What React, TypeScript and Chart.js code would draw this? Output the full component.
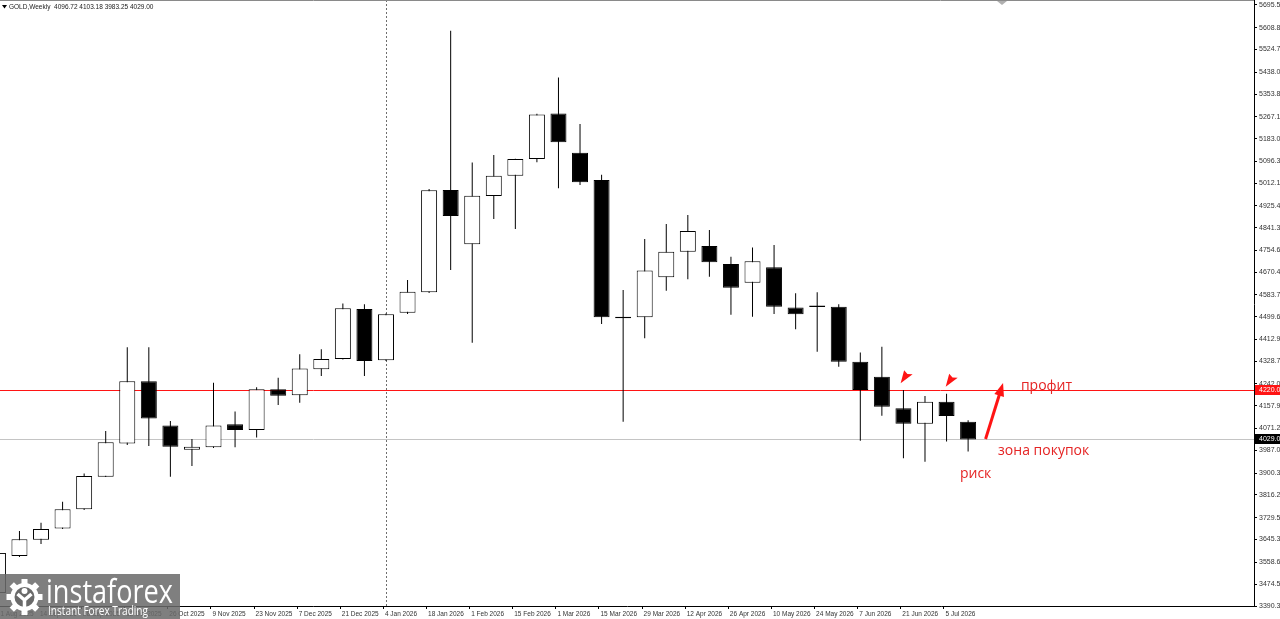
import React, { useEffect, useRef } from "react";
import { Chart, registerables } from "chart.js";

Chart.register(...registerables);

// ---------- data ----------
const symbolName = "GOLD,Weekly";

const tickDates = [
  "31 Aug 2025", "14 Sep 2025", "28 Sep 2025", "12 Oct 2025", "26 Oct 2025",
  "9 Nov 2025", "23 Nov 2025", "7 Dec 2025", "21 Dec 2025", "4 Jan 2026",
  "18 Jan 2026", "1 Feb 2026", "15 Feb 2026", "1 Mar 2026", "15 Mar 2026",
  "29 Mar 2026", "12 Apr 2026", "26 Apr 2026", "10 May 2026", "24 May 2026",
  "7 Jun 2026", "21 Jun 2026", "5 Jul 2026",
];
const tickIndexes = [0, 2, 4, 6, 8, 10, 12, 14, 16, 18, 20, 22, 24, 26, 28, 30, 32, 34, 36, 38, 40, 42, 44];

const opens = [
  3440, 3582, 3644, 3688, 3761, 3886, 4014, 4252, 4083, 3990,
  3999, 4087, 4065, 4222, 4199, 4298, 4338, 4530, 4333, 4515,
  4594, 4986, 4778, 4963, 5041, 5105, 5279, 5129, 5024, 4500,
  4498, 4651, 4749, 4771, 4702, 4630, 4690, 4535, 4543, 4538,
  4327, 4270, 4149, 4089, 4174, 4096.72,
];
const highs = [
  3605, 3678, 3710, 3790, 3899, 4062, 4383, 4383, 4100, 4031,
  4247, 4136, 4229, 4266, 4356, 4375, 4551, 4548, 4512, 4641,
  4990, 5597, 5091, 5120, 5106, 5278, 5417, 5239, 5044, 4602,
  4798, 4856, 4890, 4833, 4730, 4765, 4775, 4590, 4594, 4548,
  4363, 4385, 4219, 4196, 4204, 4103.18,
];
const lows = [
  3400, 3578, 3628, 3686, 3759, 3885, 4008, 4004, 3886, 3927,
  3996, 3999, 4037, 4161, 4170, 4273, 4336, 4273, 4330, 4510,
  4591, 4679, 4400, 4875, 4836, 5092, 4993, 5005, 4472, 4097,
  4417, 4600, 4644, 4653, 4507, 4500, 4510, 4452, 4366, 4308,
  4024, 4120, 3957, 3944, 4021, 3983.25,
];
const closes = [
  3594, 3646, 3686, 3761, 3889, 4018, 4252, 4110, 4001, 4001,
  4083, 4065, 4222, 4197, 4301, 4338, 4532, 4330, 4509, 4596,
  4985, 4886, 4964, 5041, 5105, 5276, 5169, 5016, 4498, 4494,
  4677, 4749, 4829, 4709, 4611, 4713, 4538, 4509, 4537, 4327,
  4219, 4155, 4089, 4174, 4119, 4029.0,
];

const priceTicks = [
  5695.55, 5608.85, 5524.7, 5438.0, 5353.85, 5267.15, 5183.0, 5096.3, 5012.15,
  4925.45, 4841.3, 4754.6, 4670.45, 4583.75, 4499.6, 4412.9, 4328.75, 4242.05,
  4157.9, 4071.2, 3987.05, 3900.35, 3816.2, 3729.5, 3645.35, 3558.65, 3474.5, 3390.35,
];

const levelPrice = 4220.0;
const separatorIndex = 18;

// annotations (data coordinates)
const markerArrows = [
  { index: 41.87, price: 4244.5 },
  { index: 43.96, price: 4231.5 },
];
const targetArrow = { fromIndex: 45.81, fromPrice: 4030.9, toIndex: 46.62, toPrice: 4245.7 };
const noteLabels = [
  { text: "профит", index: 47.45, price: 4234.2 },
  { text: "зона покупок", index: 46.39, price: 3982.9 },
  { text: "риск", index: 44.62, price: 3894.7 },
];

// ---------- view settings ----------
const X_MIN = 0.0974;
const X_MAX = 58.26;
const Y_MIN = 3390.35;
const Y_MAX = 5707.05;
const RED = "#ff1414";
const NOTE_RED = "#e52424";
const AXIS_FONT = "Liberation Sans, Arial, sans-serif";

function drawAxisTag(ctx: CanvasRenderingContext2D, left: number, yPix: number, text: string, bg: string) {
  ctx.fillStyle = bg;
  ctx.fillRect(left + 1, Math.round(yPix) - 5, 30, 10);
  ctx.fillStyle = "#ffffff";
  ctx.font = `7px ${AXIS_FONT}`;
  ctx.textBaseline = "middle";
  ctx.textAlign = "left";
  ctx.fillText(text, left + 5, Math.round(yPix) + 0.5);
}

function drawWatermark(ctx: CanvasRenderingContext2D) {
  ctx.save();
  const grey = "rgba(106,106,106,0.86)";
  ctx.fillStyle = grey;
  ctx.fillRect(0, 574, 180, 45);
  const cx = 24.5;
  const cy = 597;
  ctx.fillStyle = "#ffffff";
  for (let k = 0; k < 8; k++) {
    ctx.save();
    ctx.translate(cx, cy);
    ctx.rotate((k * Math.PI) / 4);
    ctx.fillRect(-3, -18, 6, 7);
    ctx.restore();
  }
  ctx.beginPath();
  ctx.arc(cx, cy, 14, 0, Math.PI * 2);
  ctx.fill();
  ctx.fillStyle = "#6a6a6a";
  ctx.beginPath();
  ctx.arc(cx, cy, 10, 0, Math.PI * 2);
  ctx.fill();
  ctx.fillStyle = "#ffffff";
  ctx.beginPath();
  ctx.arc(cx, cy - 6, 3, 0, Math.PI * 2);
  ctx.fill();
  ctx.strokeStyle = "#ffffff";
  ctx.lineWidth = 3.5;
  ctx.beginPath();
  ctx.moveTo(cx - 7, cy - 3);
  ctx.lineTo(cx, cy + 3);
  ctx.lineTo(cx + 7, cy - 3);
  ctx.moveTo(cx, cy + 3);
  ctx.lineTo(cx, cy + 15);
  ctx.stroke();

  ctx.fillStyle = "#ffffff";
  ctx.textAlign = "left";
  ctx.textBaseline = "alphabetic";
  ctx.font = `32px "Open Sans", sans-serif`;
  ctx.fillText("instaforex", 46, 603, 127);
  ctx.font = `13px "Open Sans", sans-serif`;
  ctx.fillText("Instant Forex Trading", 48, 615, 100);
  ctx.restore();
}

const overlayPlugin = {
  id: "overlay",
  beforeDatasetsDraw(chart: any) {
    const { ctx, chartArea: a, scales } = chart;
    const x = scales.x;
    const y = scales.y;
    ctx.save();
    // last price line
    const yl = Math.round(y.getPixelForValue(closes[closes.length - 1])) + 0.5;
    ctx.strokeStyle = "#c4c4c4";
    ctx.lineWidth = 1;
    ctx.beginPath();
    ctx.moveTo(a.left, yl);
    ctx.lineTo(a.right, yl);
    ctx.stroke();
    // level line
    const yr = Math.round(y.getPixelForValue(levelPrice)) + 0.5;
    ctx.strokeStyle = RED;
    ctx.beginPath();
    ctx.moveTo(a.left, yr);
    ctx.lineTo(a.right, yr);
    ctx.stroke();
    // period separator
    const xs = Math.round(x.getPixelForValue(separatorIndex)) + 0.5;
    ctx.strokeStyle = "#6e6e6e";
    ctx.setLineDash([2, 2]);
    ctx.beginPath();
    ctx.moveTo(xs, 0);
    ctx.lineTo(xs, a.bottom);
    ctx.stroke();
    ctx.restore();
  },
  afterDraw(chart: any) {
    const { ctx, chartArea: a, scales } = chart;
    const x = scales.x;
    const y = scales.y;
    ctx.save();
    // frame top line
    ctx.strokeStyle = "#8a8a8a";
    ctx.lineWidth = 1;
    ctx.beginPath();
    ctx.moveTo(0, 0.5);
    ctx.lineTo(a.right, 0.5);
    ctx.stroke();
    ctx.strokeStyle = "#000";
    ctx.beginPath();
    ctx.moveTo(a.right + 0.5, 0);
    ctx.lineTo(a.right + 0.5, a.top);
    ctx.stroke();
    // shift marker
    ctx.fillStyle = "#b0b0b0";
    ctx.beginPath();
    ctx.moveTo(997, 1);
    ctx.lineTo(1007, 1);
    ctx.lineTo(1002, 5);
    ctx.closePath();
    ctx.fill();

    // axis tags
    drawAxisTag(ctx, a.right, y.getPixelForValue(levelPrice), levelPrice.toFixed(2), RED);
    drawAxisTag(ctx, a.right, y.getPixelForValue(closes[closes.length - 1]), closes[closes.length - 1].toFixed(2), "#000000");

    // header
    const last = opens.length - 1;
    ctx.fillStyle = "#000";
    ctx.beginPath();
    ctx.moveTo(2, 5);
    ctx.lineTo(7, 5);
    ctx.lineTo(4.5, 8.5);
    ctx.closePath();
    ctx.fill();
    ctx.fillStyle = "#222";
    ctx.font = `6.5px ${AXIS_FONT}`;
    ctx.textBaseline = "middle";
    ctx.textAlign = "left";
    ctx.fillText(
      `${symbolName}  ${opens[last].toFixed(2)} ${highs[last].toFixed(2)} ${lows[last].toFixed(2)} ${closes[last].toFixed(2)}`,
      9,
      7.5
    );

    // small marker arrows
    ctx.fillStyle = RED;
    markerArrows.forEach((m) => {
      const px = x.getPixelForValue(m.index);
      const py = y.getPixelForValue(m.price);
      ctx.beginPath();
      ctx.moveTo(px, py);
      ctx.lineTo(px + 3.5, py - 13);
      ctx.lineTo(px + 6.8, py - 9.2);
      ctx.lineTo(px + 12, py - 9);
      ctx.closePath();
      ctx.fill();
    });

    // target arrow
    const x0 = x.getPixelForValue(targetArrow.fromIndex);
    const y0 = y.getPixelForValue(targetArrow.fromPrice);
    const x1 = x.getPixelForValue(targetArrow.toIndex);
    const y1 = y.getPixelForValue(targetArrow.toPrice);
    const dx = x1 - x0;
    const dy = y1 - y0;
    const len = Math.hypot(dx, dy);
    const ux = dx / len;
    const uy = dy / len;
    const headLen = 13;
    const headW = 5;
    const bx = x1 - ux * headLen;
    const by = y1 - uy * headLen;
    ctx.strokeStyle = RED;
    ctx.lineWidth = 3;
    ctx.beginPath();
    ctx.moveTo(x0, y0);
    ctx.lineTo(bx + ux * 2, by + uy * 2);
    ctx.stroke();
    ctx.beginPath();
    ctx.moveTo(x1, y1);
    ctx.lineTo(bx - uy * headW, by + ux * headW);
    ctx.lineTo(bx + uy * headW, by - ux * headW);
    ctx.closePath();
    ctx.fill();

    // notes
    ctx.fillStyle = NOTE_RED;
    ctx.font = `14px "Open Sans", sans-serif`;
    ctx.textBaseline = "middle";
    noteLabels.forEach((n) => {
      ctx.fillText(n.text, x.getPixelForValue(n.index), y.getPixelForValue(n.price));
    });

    drawWatermark(ctx);
    ctx.restore();
  },
};

export default function App() {
  const canvasRef = useRef<HTMLCanvasElement | null>(null);

  useEffect(() => {
    document.body.style.margin = "0";
    const canvas = canvasRef.current;
    if (!canvas) return;

    const bodyData = opens.map((o, i) => ({ x: i, y: [o, closes[i]] }));
    const wickData = lows.map((l, i) => ({ x: i, y: [l, highs[i]] }));
    const bodyColors = opens.map((o, i) => (closes[i] >= o ? "#ffffff" : "#000000"));

    const chart = new Chart(canvas, {
      type: "bar",
      data: {
        datasets: [
          {
            label: "body",
            data: bodyData as any,
            backgroundColor: bodyColors,
            borderColor: "#000000",
            borderWidth: 1,
            borderSkipped: false,
            barThickness: 16,
            grouped: false,
            order: 1,
            inflateAmount: 0,
          } as any,
          {
            label: "wick",
            data: wickData as any,
            backgroundColor: "#000000",
            borderWidth: 0,
            barThickness: 1,
            grouped: false,
            order: 2,
            inflateAmount: 0,
          } as any,
        ],
      },
      options: {
        animation: false,
        responsive: false,
        maintainAspectRatio: false,
        events: [],
        layout: { padding: { top: 2, left: 0, right: 0, bottom: 0 } },
        plugins: {
          legend: { display: false },
          tooltip: { enabled: false },
        },
        scales: {
          x: {
            type: "linear",
            min: X_MIN,
            max: X_MAX,
            offset: false,
            afterBuildTicks: (s: any) => {
              s.ticks = tickIndexes.map((v) => ({ value: v - 0.12 }));
            },
            afterFit: (s: any) => {
              s.height = 13;
              s.paddingLeft = 0;
              s.paddingRight = 0;
            },
            ticks: {
              autoSkip: false,
              maxRotation: 0,
              minRotation: 0,
              align: "start",
              labelOffset: 1.5,
              padding: 1,
              color: "#333333",
              font: { size: 6.5, family: AXIS_FONT },
              callback: (_v: any, idx: number) => tickDates[idx],
            },
            grid: {
              drawOnChartArea: false,
              drawTicks: true,
              tickLength: 3,
              color: "#000000",
              offset: false,
            },
            border: { display: true, color: "#000000" },
          } as any,
          y: {
            type: "linear",
            position: "right",
            min: Y_MIN,
            max: Y_MAX,
            afterBuildTicks: (s: any) => {
              s.ticks = priceTicks.map((v) => ({ value: v }));
            },
            afterFit: (s: any) => {
              s.width = 26;
              s.paddingTop = 0;
              s.paddingBottom = 0;
            },
            ticks: {
              autoSkip: false,
              crossAlign: "near",
              padding: 2,
              color: "#333333",
              font: { size: 7, family: AXIS_FONT },
              callback: (v: any) => Number(v).toFixed(2),
            },
            grid: {
              drawOnChartArea: false,
              drawTicks: true,
              tickLength: 3,
              color: "#000000",
            },
            border: { display: true, color: "#000000" },
          } as any,
        },
      },
      plugins: [overlayPlugin as any],
    });

    return () => {
      chart.destroy();
    };
  }, []);

  return (
    <div style={{ width: 1280, height: 619, position: "relative", background: "#ffffff" }}>
      <canvas ref={canvasRef} width={1280} height={619} style={{ display: "block" }} />
    </div>
  );
}
